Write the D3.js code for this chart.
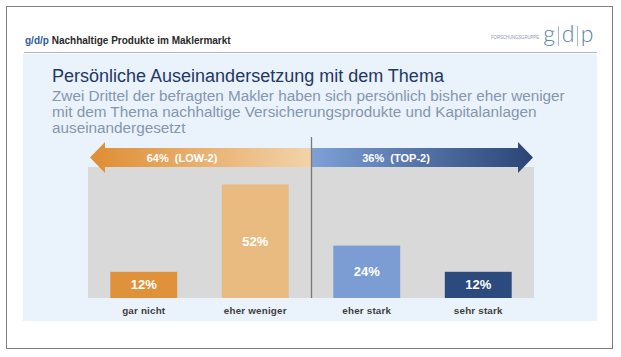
<!DOCTYPE html>
<html>
<head>
<meta charset="utf-8">
<script src="https://cdn.jsdelivr.net/npm/d3@7/dist/d3.min.js"></script>
<style>
  html, body { margin: 0; padding: 0; background: #ffffff; }
  svg { display: block; font-family: "Liberation Sans", Arial, sans-serif; }
</style>
</head>
<body>
<svg id="chart" width="621" height="357"></svg>
<script>
// ---- data ----
const categories = ["gar nicht", "eher weniger", "eher stark", "sehr stark"];
const values = [12, 52, 24, 12];
const valueLabels = ["12%", "52%", "24%", "12%"];
const groupNames = ["LOW-2", "TOP-2"];
const groupMembers = [[0, 1], [2, 3]];
const headerBrand = "g/d/p";
const headerText = "Nachhaltige Produkte im Maklermarkt";
const title = "Persönliche Auseinandersetzung mit dem Thema";
const subtitleLines = [
  "Zwei Drittel der befragten Makler haben sich persönlich bisher eher weniger",
  "mit dem Thema nachhaltige Versicherungsprodukte und Kapitalanlagen",
  "auseinandergesetzt"
];
const logoSmall = "FORSCHUNGSGRUPPE";
const logoLetters = ["g", "d", "p"];

// ---- styles ----
const barColors = ["#e0923a", "#e9bb80", "#7c9dd3", "#2c4a7e"];

const svg = d3.select("#chart");

// outer frame
svg.append("rect").attr("x", 6.5).attr("y", 6.5).attr("width", 606).attr("height", 342)
  .attr("fill", "#ffffff").attr("stroke", "#7f7f7f").attr("stroke-width", 1);

// header
const ht = svg.append("text").attr("x", 25).attr("y", 44)
  .attr("font-size", 10).attr("font-weight", "bold");
ht.append("tspan").attr("fill", "#2d5c9a").text(headerBrand + " ");
ht.append("tspan").attr("fill", "#2a2a2a").text(headerText);

// logo
svg.append("text").attr("x", 491).attr("y", 39)
  .attr("font-size", 5).attr("fill", "#8a9bb0").attr("textLength", 48)
  .attr("lengthAdjust", "spacingAndGlyphs")
  .text(logoSmall);
const logoX = [549, 568, 587];
logoLetters.forEach((l, i) => {
  svg.append("text").attr("x", logoX[i]).attr("y", 42).attr("text-anchor", "middle")
    .attr("font-size", 23).attr("font-family", "Lato, 'Open Sans', sans-serif")
    .attr("font-weight", 300)
    .attr("fill", "#5d7fa9").text(l);
  if (i < logoLetters.length - 1) {
    svg.append("line").attr("x1", logoX[i] + 9.5).attr("x2", logoX[i] + 9.5)
      .attr("y1", 26).attr("y2", 46).attr("stroke", "#8fa6c4").attr("stroke-width", 0.8);
  }
});

// header rule
svg.append("line").attr("x1", 24).attr("x2", 597).attr("y1", 52.5).attr("y2", 52.5)
  .attr("stroke", "#b8b8b8").attr("stroke-width", 1);

// panel
svg.append("rect").attr("x", 23).attr("y", 54).attr("width", 574).attr("height", 267)
  .attr("fill", "#eaf2fc");

// title + subtitle
svg.append("text").attr("x", 52).attr("y", 82).attr("font-size", 18)
  .attr("fill", "#1f3864").text(title);
svg.append("g").selectAll("text").data(subtitleLines).join("text")
  .attr("x", 52).attr("y", (d, i) => 101 + i * 16)
  .attr("font-size", 15.3).attr("fill", "#8596ad").text(d => d);

// ---- scales ----
const x = d3.scaleBand().domain(categories).range([88, 534]).paddingInner(0.4).paddingOuter(0.2);
const y = d3.scaleLinear().domain([0, 60]).range([298, 167]);
const xMid = x(categories[2]) - x.step() * x.paddingInner() / 2;

// background plot area
svg.append("rect").attr("x", x.range()[0]).attr("y", y(60))
  .attr("width", x.range()[1] - x.range()[0]).attr("height", y(0) - y(60))
  .attr("fill", "#d9d9d9");

// gradients
const defs = svg.append("defs");
const gl = defs.append("linearGradient").attr("id", "gl").attr("x1", "0%").attr("x2", "100%");
gl.append("stop").attr("offset", "0%").attr("stop-color", "#df8d33");
gl.append("stop").attr("offset", "100%").attr("stop-color", "#f2d3aa");
const gr = defs.append("linearGradient").attr("id", "gr").attr("x1", "0%").attr("x2", "100%");
gr.append("stop").attr("offset", "0%").attr("stop-color", "#7fa1d7");
gr.append("stop").attr("offset", "100%").attr("stop-color", "#2a4475");

// arrows
const aCy = 157.5, shaftH = 19, headH = 31, headL = 15;
const left0 = x.range()[0] + 2, right1 = x.range()[1] - 1;
const leftPts = [
  [left0, aCy], [left0 + headL, aCy - headH / 2], [left0 + headL, aCy - shaftH / 2],
  [xMid, aCy - shaftH / 2], [xMid, aCy + shaftH / 2], [left0 + headL, aCy + shaftH / 2],
  [left0 + headL, aCy + headH / 2]
];
const rightPts = [
  [right1, aCy], [right1 - headL, aCy - headH / 2], [right1 - headL, aCy - shaftH / 2],
  [xMid, aCy - shaftH / 2], [xMid, aCy + shaftH / 2], [right1 - headL, aCy + shaftH / 2],
  [right1 - headL, aCy + headH / 2]
];
svg.append("polygon").attr("points", leftPts.map(p => p.join(",")).join(" ")).attr("fill", "url(#gl)");
svg.append("polygon").attr("points", rightPts.map(p => p.join(",")).join(" ")).attr("fill", "url(#gr)");

const groupSums = groupMembers.map(m => d3.sum(m, i => values[i]));
const groupTextX = [xMid - 129, xMid + 85];
groupSums.forEach((s, i) => {
  svg.append("text").attr("x", groupTextX[i]).attr("y", aCy + 4)
    .attr("text-anchor", "middle").attr("font-size", 11).attr("font-weight", "bold")
    .attr("fill", "#ffffff").attr("xml:space", "preserve")
    .text(s + "%  (" + groupNames[i] + ")");
});

// bars
svg.append("g").selectAll("rect").data(values).join("rect")
  .attr("x", (d, i) => x(categories[i])).attr("y", d => y(d))
  .attr("width", x.bandwidth()).attr("height", d => y(0) - y(d))
  .attr("fill", (d, i) => barColors[i]);

// divider
svg.append("line").attr("x1", xMid + 0.5).attr("x2", xMid + 0.5).attr("y1", 137).attr("y2", y(0))
  .attr("stroke", "#7a7a7a").attr("stroke-width", 1.3);

// value labels
svg.append("g").selectAll("text").data(values).join("text")
  .attr("x", (d, i) => x(categories[i]) + x.bandwidth() / 2)
  .attr("y", d => (y(d) + y(0)) / 2 + 4.5)
  .attr("text-anchor", "middle").attr("font-size", 13).attr("font-weight", "bold")
  .attr("fill", "#ffffff").text((d, i) => valueLabels[i]);

// category labels
svg.append("g").selectAll("text").data(categories).join("text")
  .attr("x", d => x(d) + x.bandwidth() / 2).attr("y", 314)
  .attr("text-anchor", "middle").attr("font-size", 9.8).attr("font-weight", "bold")
  .attr("fill", "#3e3e3e").attr("letter-spacing", 0.2).text(d => d);
</script>
</body>
</html>
